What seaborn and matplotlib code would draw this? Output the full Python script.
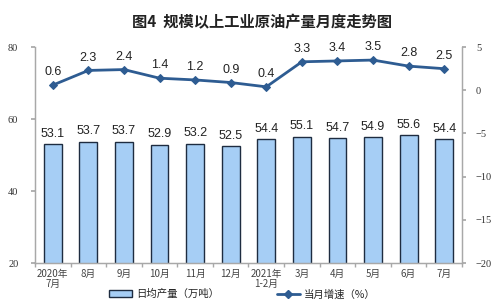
import numpy as np
import pandas as pd
import matplotlib
matplotlib.use("Agg")
import matplotlib.pyplot as plt
import seaborn as sns
from matplotlib.patches import Patch
from matplotlib.lines import Line2D
from matplotlib.ticker import FixedLocator

months = ["2020年\n7月", "8月", "9月", "10月", "11月", "12月", "2021年\n1-2月",
          "3月", "4月", "5月", "6月", "7月"]
daily_output = [53.1, 53.7, 53.7, 52.9, 53.2, 52.5, 54.4, 55.1, 54.7, 54.9, 55.6, 54.4]
growth = [0.6, 2.3, 2.4, 1.4, 1.2, 0.9, 0.4, 3.3, 3.4, 3.5, 2.8, 2.5]
left_ticks = [20, 40, 60, 80]
right_ticks = [-20, -15, -10, -5, 0, 5]

sns.set_theme(style="white")
plt.rcParams['font.family'] = ['Noto Sans CJK SC', 'DejaVu Sans']

bar_color = "#A6CEF5"
edge_color = "#1E2C40"
line_color = "#2E5C92"
spine_color = "#A8A8A8"

fig = plt.figure(figsize=(5.0, 3.02), dpi=100)
ax = fig.add_axes([0.07, 0.129, 0.854, 0.715])

df = pd.DataFrame({"month": months, "output": daily_output, "growth": growth})
sns.barplot(data=df, x="month", y="output", ax=ax, color=bar_color,
            edgecolor=edge_color, linewidth=1.0, width=0.5, saturation=1)
ax.set_ylim(20, 80)
ax.set_xlim(-0.5, len(months) - 0.5)
ax.set_yticks(left_ticks)
ax.set_xlabel("")
ax.set_ylabel("")

for i, v in enumerate(daily_output):
    ax.text(i, v + 1.2, f"{v:.1f}", ha="center", va="bottom", fontsize=9,
            family="Liberation Sans", color="#222222")

ax2 = ax.twinx()
sns.lineplot(x=np.arange(len(growth)), y=growth, ax=ax2, color=line_color,
             marker="D", markersize=4, linewidth=2, markeredgecolor=line_color)
ax2.set_ylim(-20, 5)
ax2.set_yticks(right_ticks)
ax2.set_xlim(-0.5, len(months) - 0.5)
for i, v in enumerate(growth):
    ax2.text(i, v + 0.8, f"{v:.1f}", ha="center", va="bottom", fontsize=9,
             family="Liberation Sans", color="#222222")

for a in (ax, ax2):
    for s in a.spines.values():
        s.set_color(spine_color)
        s.set_linewidth(0.9)
    a.spines["top"].set_visible(False)

ax.tick_params(axis="y", direction="out", length=3, color=spine_color,
               labelsize=7.5, labelcolor="#333333", pad=9, left=True)
for lab in ax.get_yticklabels():
    lab.set_family("Liberation Serif")
ax2.tick_params(axis="y", direction="out", length=3, color=spine_color,
                labelsize=7.5, labelcolor="#333333", pad=7, right=True)
for lab in ax2.get_yticklabels():
    lab.set_family("Liberation Serif")

ax.tick_params(axis="x", which="major", length=0, labelsize=7,
               labelcolor="#444444", pad=4)
ax.xaxis.set_minor_locator(FixedLocator(np.arange(-0.5, len(months), 1.0)))
ax.tick_params(axis="x", which="minor", direction="out", length=3,
               color=spine_color, bottom=True)
for lab in ax.get_xticklabels():
    lab.set_linespacing(1.0)

fig.text(0.525, 0.925, "图4  规模以上工业原油产量月度走势图", ha="center", va="center",
         fontsize=11, fontweight="bold", color="#222222")

handles = [Patch(facecolor=bar_color, edgecolor=edge_color, linewidth=1.0),
           Line2D([0], [0], color=line_color, marker="D", markersize=4, linewidth=2)]
fig.legend(handles, ["日均产量（万吨）", "当月增速（%）"], loc="lower center",
           bbox_to_anchor=(0.485, -0.012), ncol=2, frameon=False, fontsize=7.5,
           columnspacing=5.5, handlelength=2.2, handletextpad=0.4, borderpad=0.1)

fig.savefig("out.png", dpi=100)
